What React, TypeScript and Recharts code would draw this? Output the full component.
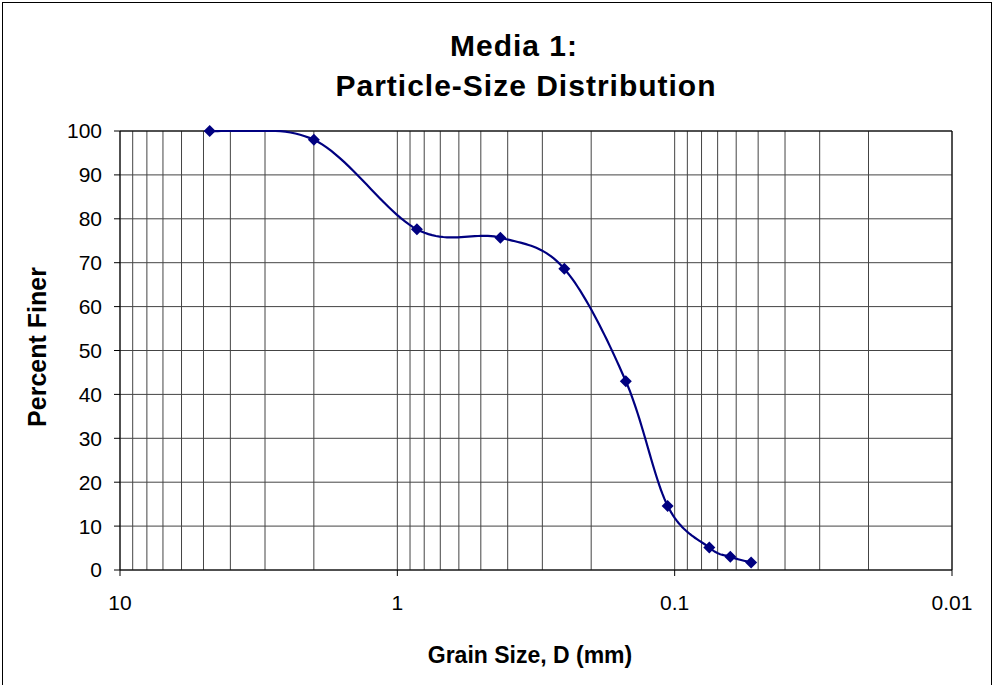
import { CartesianGrid, Line, LineChart, ReferenceLine, XAxis, YAxis } from "recharts";

// sieve data, media 1
const grainSizes = [4.75, 2.0, 0.85, 0.425, 0.25, 0.15, 0.106, 0.075, 0.063, 0.053];
const percentFiner = [100, 98, 77.6, 75.7, 68.6, 43, 14.6, 5.1, 3, 1.7];

const xTicks = [10, 1, 0.1, 0.01];
const yTicks = [0, 10, 20, 30, 40, 50, 60, 70, 80, 90, 100];
// log-cycle grid lines
const gridSizes = [
  10, 9, 8, 7, 6, 5, 4, 3, 2,
  1, 0.9, 0.8, 0.7, 0.6, 0.5, 0.4, 0.3, 0.2,
  0.1, 0.09, 0.08, 0.07, 0.06, 0.05, 0.04, 0.03, 0.02,
  0.01,
];

const rows = grainSizes.map((d, i) => ({ size: d, finer: percentFiner[i] }));

const FONT = '"Liberation Sans", Arial, sans-serif';
const NAVY = "#000080";
const GRID = "#444";

// excel-style smoothed line (catmull-rom bezier), clipped at the highest point like excel does at the plot edge
function excelSmooth(context: any) {
  let pts: number[][] = [];
  return {
    areaStart() {},
    areaEnd() {},
    lineStart() {
      pts = [];
    },
    point(x: number, y: number) {
      pts.push([+x, +y]);
    },
    lineEnd() {
      const n = pts.length;
      if (!n) return;
      const top = Math.min(...pts.map((p) => p[1]));
      context.moveTo(pts[0][0], pts[0][1]);
      for (let i = 0; i < n - 1; i++) {
        const p0 = pts[Math.max(i - 1, 0)];
        const p1 = pts[i];
        const p2 = pts[i + 1];
        const p3 = pts[Math.min(i + 2, n - 1)];
        const c1 = [p1[0] + (p2[0] - p0[0]) / 6, p1[1] + (p2[1] - p0[1]) / 6];
        const c2 = [p2[0] - (p3[0] - p1[0]) / 6, p2[1] - (p3[1] - p1[1]) / 6];
        for (let s = 1; s <= 24; s++) {
          const t = s / 24;
          const u = 1 - t;
          const x = u * u * u * p1[0] + 3 * u * u * t * c1[0] + 3 * u * t * t * c2[0] + t * t * t * p2[0];
          const y = u * u * u * p1[1] + 3 * u * u * t * c1[1] + 3 * u * t * t * c2[1] + t * t * t * p2[1];
          context.lineTo(x, Math.max(y, top));
        }
      }
    },
  };
}

function Diamond({ cx, cy }: { cx?: number; cy?: number }) {
  if (cx == null || cy == null) return null;
  const r = 6;
  return <polygon points={`${cx},${cy - r} ${cx + r},${cy} ${cx},${cy + r} ${cx - r},${cy}`} fill={NAVY} />;
}

export default function App() {
  return (
    <div style={{ position: "absolute", left: 0, top: 0, width: 994, height: 685, overflow: "hidden", background: "#fff" }}>
      <div style={{ position: "absolute", left: 2, top: 2, width: 988, height: 700, border: "1px solid #000" }} />
      <LineChart width={994} height={685} data={rows} margin={{ top: 131, right: 42, bottom: 55, left: 40 }}>
        <CartesianGrid vertical={false} stroke={GRID} />
        {gridSizes.map((v) => (
          <ReferenceLine key={v} x={v} stroke={GRID} strokeWidth={1} />
        ))}
        <XAxis
          dataKey="size"
          type="number"
          scale="log"
          domain={[0.01, 10]}
          reversed
          ticks={xTicks}
          interval={0}
          height={60}
          tickSize={6}
          tickMargin={19}
          stroke="#000"
          tick={{ fill: "#000", fontSize: 21, fontFamily: FONT }}
        />
        <YAxis
          type="number"
          domain={[0, 100]}
          ticks={yTicks}
          interval={0}
          width={80}
          tickSize={6}
          tickMargin={12}
          stroke="#000"
          tick={{ fill: "#000", fontSize: 21, fontFamily: FONT }}
        />
        <ReferenceLine y={100} stroke="#000" />
        <ReferenceLine x={0.01} stroke="#000" />
        <Line
          type={excelSmooth as any}
          dataKey="finer"
          stroke={NAVY}
          strokeWidth={2.2}
          dot={(p: any) => <Diamond key={p.index} cx={p.cx} cy={p.cy} />}
          activeDot={false}
          isAnimationActive={false}
        />
      </LineChart>
      <svg width={994} height={685} style={{ position: "absolute", left: 0, top: 0, pointerEvents: "none" }}>
        <g fontFamily={FONT} fontWeight="bold" fill="#000">
          <text x={514} y={56} fontSize={30} textAnchor="middle" letterSpacing={1}>Media 1:</text>
          <text x={526} y={96} fontSize={30} textAnchor="middle" letterSpacing={1}>Particle-Size Distribution</text>
          <text x={530} y={663} fontSize={23} textAnchor="middle">Grain Size, D (mm)</text>
          <text transform="translate(46,347) rotate(-90)" fontSize={25} textAnchor="middle">Percent Finer</text>
        </g>
      </svg>
    </div>
  );
}
